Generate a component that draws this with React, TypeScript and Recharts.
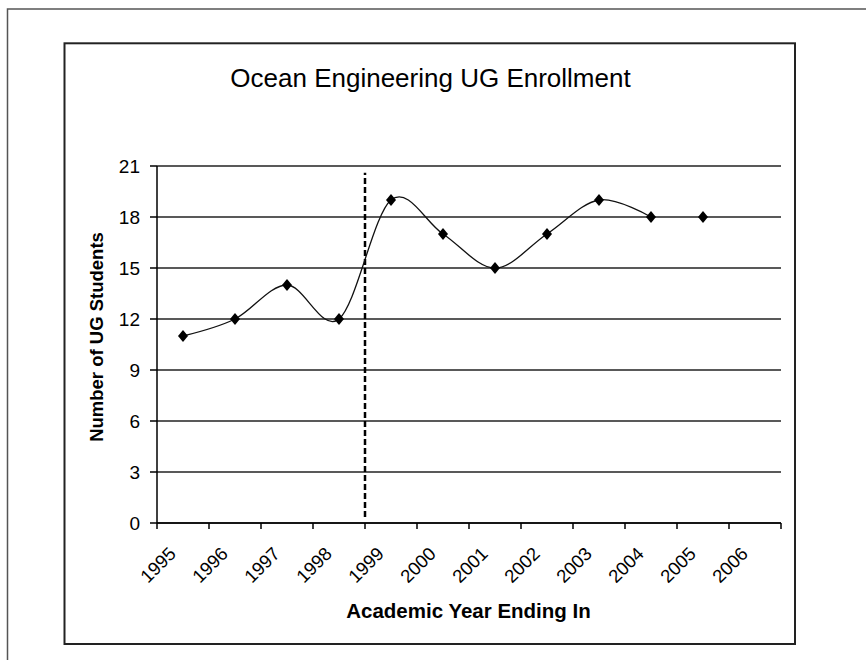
import React from 'react';
import { LineChart, Line, XAxis, YAxis, CartesianGrid, ReferenceLine } from 'recharts';

// category labels on the x axis (each year is one band between two tick marks)
const YEAR_LABELS = ['1995', '1996', '1997', '1998', '1999', '2000', '2001', '2002', '2003', '2004', '2005', '2006'];
const POINT_YEARS = [1995, 1996, 1997, 1998, 1999, 2000, 2001, 2002, 2003, 2004, 2005];
const STUDENTS = [11, 12, 14, 12, 19, 17, 15, 17, 19, 18, 18];
// only the first ten points are joined by the smoothed line, 2005 stands alone
const CONNECTED_POINTS = 10;
const Y_TICKS = [0, 3, 6, 9, 12, 15, 18, 21];
const DIVIDER_YEAR = 1999;
const DIVIDER_TOP = 20.6;

const FONT = '"Liberation Sans", Arial, Helvetica, sans-serif';

const firstYear = Number(YEAR_LABELS[0]);
const lastEdge = Number(YEAR_LABELS[YEAR_LABELS.length - 1]) + 1;
const X_TICKS = [...YEAR_LABELS.map(Number), lastEdge];

// points sit in the middle of their year band
const data = POINT_YEARS.map((year, i) => ({
    x: year + 0.5,
    students: i < CONNECTED_POINTS ? STUDENTS[i] : null,
    lone: i >= CONNECTED_POINTS ? STUDENTS[i] : null,
}));

// Excel style smoothing: cardinal spline with tension 0 (same as d3 curveCardinal)
function excelSmooth(context: any) {
    const k = 1 / 6;
    let x0 = NaN, x1 = NaN, x2 = NaN, y0 = NaN, y1 = NaN, y2 = NaN;
    let pt = 0;
    let line: number = NaN;
    const seg = (x: number, y: number) =>
        context.bezierCurveTo(x1 + k * (x2 - x0), y1 + k * (y2 - y0), x2 + k * (x1 - x), y2 + k * (y1 - y), x2, y2);
    return {
        areaStart() { line = 0; },
        areaEnd() { line = NaN; },
        lineStart() { x0 = x1 = x2 = y0 = y1 = y2 = NaN; pt = 0; },
        lineEnd() {
            if (pt === 2) context.lineTo(x2, y2);
            else if (pt === 3) seg(x1, y1);
            if (line || (line !== 0 && pt === 1)) context.closePath();
            line = 1 - line;
        },
        point(x: number, y: number) {
            switch (pt) {
                case 0: pt = 1; if (line) context.lineTo(x, y); else context.moveTo(x, y); break;
                case 1: pt = 2; x1 = x; y1 = y; break;
                case 2: pt = 3; seg(x, y); break;
                default: seg(x, y); break;
            }
            x0 = x1; x1 = x2; x2 = x;
            y0 = y1; y1 = y2; y2 = y;
        },
    };
}

const renderDiamond = (props: any) => {
    const { cx, cy, index } = props;
    if (cx == null || cy == null || props.value == null) return <g key={`d-${index}`} />;
    return (
        <path
            key={`d-${index}`}
            d={`M${cx},${cy - 6} L${cx + 5},${cy} L${cx},${cy + 6} L${cx - 5},${cy} Z`}
            fill="#000"
        />
    );
};

const YearTick = (props: any) => {
    const { x, y, payload } = props;
    if (payload.value >= lastEdge) return <g />;
    const tx = x + 20;
    const ty = y + 24;
    return (
        <text
            x={tx}
            y={ty}
            transform={`rotate(-45 ${tx} ${ty})`}
            textAnchor="end"
            fontFamily={FONT}
            fontSize={18.5}
            fill="#000"
        >
            {payload.value}
        </text>
    );
};

const CountTick = (props: any) => {
    const { x, y, payload } = props;
    return (
        <text x={x} y={y} dy="0.36em" textAnchor="end" fontFamily={FONT} fontSize={19} fill="#000">
            {payload.value}
        </text>
    );
};

export default function App() {
    return (
        <div style={{ position: 'absolute', left: 0, top: 0, width: 866, height: 660, background: '#fff' }}>
            <svg width={866} height={660} style={{ position: 'absolute', left: 0, top: 0 }}>
                <polyline points="7.5,660 7.5,9 866,9" fill="none" stroke="#555" strokeWidth={1.5} />
                <rect x={64.5} y={43.3} width={730.5} height={600.7} fill="none" stroke="#222" strokeWidth={2} />
                <text x={430.5} y={86.5} textAnchor="middle" fontFamily={FONT} fontSize={26} fill="#000">
                    Ocean Engineering UG Enrollment
                </text>
                <text x={468.5} y={618} textAnchor="middle" fontFamily={FONT} fontSize={20.5} fontWeight="bold" fill="#000">
                    Academic Year Ending In
                </text>
                <text
                    x={102.5}
                    y={337}
                    transform="rotate(-90 102.5 337)"
                    textAnchor="middle"
                    fontFamily={FONT}
                    fontSize={18.5}
                    fontWeight="bold"
                    fill="#000"
                >
                    Number of UG Students
                </text>
            </svg>
            <div style={{ position: 'absolute', left: 0, top: 0 }}>
                <LineChart width={866} height={660} data={data} margin={{ top: 166, right: 85, bottom: 77, left: 97 }}>
                    <CartesianGrid vertical={false} stroke="#222" strokeWidth={1.5} />
                    <XAxis
                        type="number"
                        dataKey="x"
                        domain={[firstYear, lastEdge]}
                        ticks={X_TICKS}
                        interval={0}
                        height={60}
                        tickSize={6}
                        tickMargin={2}
                        axisLine={{ stroke: '#000', strokeWidth: 1.5 }}
                        tickLine={{ stroke: '#000', strokeWidth: 1.5 }}
                        tick={<YearTick />}
                    />
                    <YAxis
                        type="number"
                        domain={[0, 21]}
                        ticks={Y_TICKS}
                        interval={0}
                        width={60}
                        tickSize={7}
                        tickMargin={10}
                        axisLine={{ stroke: '#000', strokeWidth: 1.5 }}
                        tickLine={{ stroke: '#000', strokeWidth: 1.5 }}
                        tick={<CountTick />}
                    />
                    <ReferenceLine
                        segment={[{ x: DIVIDER_YEAR, y: 0.35 }, { x: DIVIDER_YEAR, y: DIVIDER_TOP }]}
                        stroke="#000"
                        strokeWidth={2.5}
                        strokeDasharray="6 3"
                    />
                    <Line
                        type={excelSmooth as any}
                        dataKey="students"
                        stroke="#111"
                        strokeWidth={1.3}
                        dot={renderDiamond}
                        activeDot={false}
                        isAnimationActive={false}
                    />
                    <Line
                        dataKey="lone"
                        stroke="none"
                        dot={renderDiamond}
                        activeDot={false}
                        isAnimationActive={false}
                    />
                </LineChart>
            </div>
        </div>
    );
}
